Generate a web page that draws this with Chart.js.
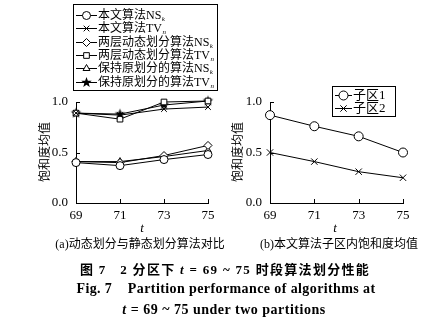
<!DOCTYPE html>
<html><head><meta charset="utf-8">
<script src="https://cdn.jsdelivr.net/npm/chart.js@4/dist/chart.umd.min.js"></script>
<style>
html,body{margin:0;padding:0;background:#fff;}
#wrap{position:relative;width:448px;height:324px;overflow:hidden;font-family:'Liberation Serif','Noto Sans CJK SC',serif;color:#000;}
canvas{position:absolute;top:0;}
.t{position:absolute;white-space:nowrap;line-height:1;transform:translate(-50%,-50%);}
.cj{font-family:'Noto Sans CJK SC',sans-serif;}
</style></head><body>
<div id="wrap">
<canvas id="ca" width="224" height="240" style="left:0"></canvas>
<canvas id="cb" width="224" height="240" style="left:224px"></canvas>
<div class="t cj" style="left:44px;top:152px;font-size:12px;transform:translate(-50%,-50%) rotate(-90deg)">饱和度均值</div>
<div class="t cj" style="left:237px;top:152px;font-size:12px;transform:translate(-50%,-50%) rotate(-90deg)">饱和度均值</div>
<div class="t" style="left:142px;top:227px;font-size:13px;font-style:italic">t</div>
<div class="t" style="left:335px;top:227px;font-size:13px;font-style:italic">t</div>
<div class="t" style="left:140px;top:243px;font-size:12px">(a)<span class="cj">动态划分与静态划分算法对比</span></div>
<div class="t" style="left:339px;top:243px;font-size:12px">(b)<span class="cj">本文算法子区内饱和度均值</span></div>
<div class="t" style="left:225px;top:269px;font-size:13px;font-weight:bold;letter-spacing:1.3px"><span class="cj">图</span> 7&nbsp;&nbsp;&nbsp;2 <span class="cj">分区下</span> <i>t</i> = 69 ~ 75 <span class="cj">时段算法划分性能</span></div>
<div class="t" style="left:226px;top:289px;font-size:14px;font-weight:bold;letter-spacing:0.4px">Fig. 7&nbsp;&nbsp;&nbsp; Partition performance of algorithms at</div>
<div class="t" style="left:224px;top:310px;font-size:14px;font-weight:bold;letter-spacing:0.5px"><i>t</i> = 69 ~ 75 under two partitions</div>
</div>
<script>
// ---- data ----
const tLabels = ['69','71','73','75'];
const nsOurs  = [0.40, 0.37, 0.43, 0.48];
const tvOurs  = [0.89, 0.87, 0.93, 0.95];
const nsTwo   = [0.41, 0.40, 0.47, 0.57];
const tvTwo   = [0.89, 0.83, 1.00, 1.01];
const nsKeep  = [0.41, 0.41, 0.46, 0.52];
const tvKeep  = [0.89, 0.88, 0.97, 1.01];
const zone1   = [0.87, 0.76, 0.66, 0.50];
const zone2   = [0.50, 0.41, 0.31, 0.25];
const yTicks  = [0, 0.5, 1.0];
const namesA  = ['本文算法NS','本文算法TV','两层动态划分算法NS','两层动态划分算法TV','保持原划分的算法NS','保持原划分的算法TV'];
const subsA   = ['k','n','k','n','k','n'];
const namesB  = ['子区1','子区2'];

function makeStar(r){
  const s=Math.ceil(r*2+2);const c=document.createElement('canvas');c.width=s;c.height=s;
  const g=c.getContext('2d');g.fillStyle='#000';g.beginPath();
  for(let i=0;i<10;i++){const a=-Math.PI/2+i*Math.PI/5;const rr=i%2?r*0.42:r;g.lineTo(s/2+rr*Math.cos(a),s/2+rr*Math.sin(a));}
  g.closePath();g.fill();return c;
}
const star=makeStar(5.5);

function ds(label,data,style,sub,radius){
  return {label,data,sub,pointStyle:style,borderColor:'#000',borderWidth:1,pointBackgroundColor:'#fff',
    pointBorderColor:'#000',pointBorderWidth:1,pointRadius:radius||4,tension:0,fill:false,clip:false};
}

function drawMarker(ctx,style,r,x,y){
  ctx.save();ctx.fillStyle='#fff';ctx.strokeStyle='#000';ctx.lineWidth=1;
  if(Chart.helpers&&Chart.helpers.drawPoint){Chart.helpers.drawPoint(ctx,{pointStyle:style,radius:r,borderWidth:1,rotation:0},x,y);}
  ctx.restore();
}

const tickPlugin={id:'inTicks',beforeDatasetsDraw(chart){
  const {ctx,scales:{x,y},chartArea:a}=chart;ctx.save();ctx.strokeStyle='#000';ctx.lineWidth=1;ctx.beginPath();
  y.ticks.forEach(t=>{const py=Math.round(y.getPixelForValue(t.value))+0.5;ctx.moveTo(a.left,py);ctx.lineTo(a.left+4,py);});
  x.ticks.forEach((t,i)=>{const px=Math.round(x.getPixelForTick(i))+0.5;ctx.moveTo(px,a.bottom);ctx.lineTo(px,a.bottom-4);});
  ctx.stroke();ctx.restore();}};

const legendPlugin={id:'boxLegend',afterDraw(chart,args,o){
  const ctx=chart.ctx;const b=o.box;ctx.save();
  ctx.fillStyle='#fff';ctx.fillRect(b[0],b[1],b[2]-b[0],b[3]-b[1]);
  ctx.strokeStyle='#000';ctx.lineWidth=1;ctx.strokeRect(b[0]+0.5,b[1]+0.5,b[2]-b[0],b[3]-b[1]);
  chart.data.datasets.forEach((d,i)=>{
    const y=Math.round(o.rowY[i])+0.5;
    ctx.beginPath();ctx.moveTo(o.lineX[0],y);ctx.lineTo(o.lineX[1],y);ctx.stroke();
    drawMarker(ctx,d.pointStyle,d.pointRadius,(o.lineX[0]+o.lineX[1])/2,y);
    ctx.fillStyle='#000';ctx.textBaseline='middle';ctx.textAlign='left';
    ctx.font=o.size+"px 'Liberation Serif','Noto Sans CJK SC'";
    ctx.fillText(d.label,o.textX,y);
    if(d.sub){const w=ctx.measureText(d.label).width;ctx.font="italic "+Math.round(o.size*0.6)+"px 'Liberation Serif'";ctx.fillText(d.sub,o.textX+w+0.5,y+4);}
  });
  ctx.restore();}};

function makeChart(id,datasets,yW,padRight,legend){
  return new Chart(document.getElementById(id),{
    type:'line',
    data:{labels:tLabels,datasets},
    plugins:[tickPlugin,legendPlugin],
    options:{responsive:false,animation:false,devicePixelRatio:1,
      layout:{padding:{left:0,top:102,right:padRight,bottom:0}},
      plugins:{legend:{display:false},tooltip:{enabled:false},boxLegend:legend},
      scales:{
        x:{type:'category',offset:false,grid:{display:false,drawTicks:false},border:{display:true,color:'#000',width:1},
          ticks:{color:'#000',padding:5,maxRotation:0,autoSkip:false,font:{family:'Liberation Serif',size:13}},
          afterFit(s){s.height=37;}},
        y:{min:0,max:1,grid:{display:false,drawTicks:false},border:{display:true,color:'#000',width:1},
          afterBuildTicks(s){s.ticks=yTicks.map(v=>({value:v}));},
          ticks:{color:'#000',padding:8,callback:v=>Number(v).toFixed(1),font:{family:'Liberation Serif',size:13}},
          afterFit(s){s.width=yW;}}
      }}
  });
}

makeChart('ca',[
  ds(namesA[0],nsOurs,'circle',subsA[0]),
  ds(namesA[1],tvOurs,'crossRot',subsA[1]),
  ds(namesA[2],nsTwo,'rectRot',subsA[2]),
  ds(namesA[3],tvTwo,'rect',subsA[3]),
  ds(namesA[4],nsKeep,'triangle',subsA[4]),
  ds(namesA[5],tvKeep,star,subsA[5])
],76,16,{box:[73,4,217,90],rowY:[15,28.3,41.6,55,68.3,81.6],lineX:[76,97],textX:98,size:12});

makeChart('cb',[
  ds(namesB[0],zone1,'circle',null,4.5),
  ds(namesB[1],zone2,'crossRot',null,4.5)
],46,45,{box:[108,86,171,116],rowY:[95,108],lineX:[111,128],textX:129,size:13});
</script>
</body></html>
